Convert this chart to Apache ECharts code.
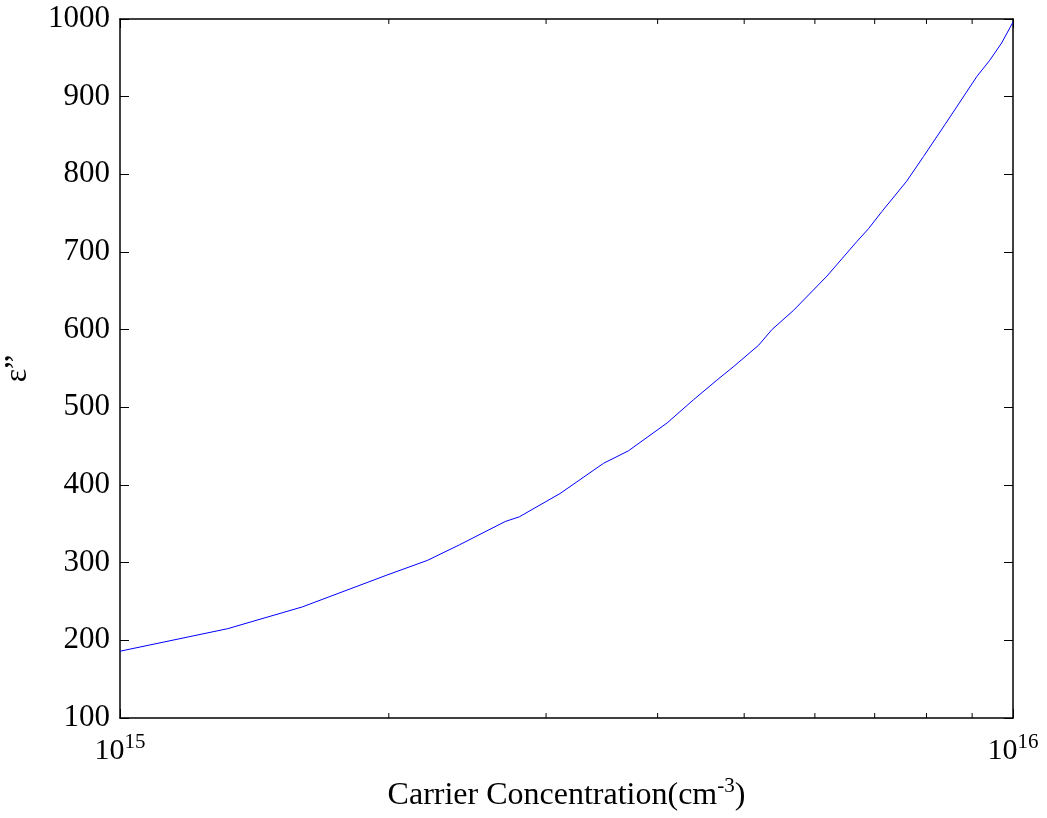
<!DOCTYPE html>
<html>
<head>
<meta charset="utf-8">
<title>Carrier concentration vs ε”</title>
<script src="https://cdn.jsdelivr.net/npm/echarts@6/dist/echarts.min.js"></script>
<style>
  html, body { margin: 0; padding: 0; background: #fff; }
  #chart { width: 1047px; height: 818px; }
</style>
</head>
<body>
<div id="chart"></div>
<script>
// carrier concentration (cm^-3) and epsilon''
const conc = [
  1.00e15, 1.32e15, 1.60e15, 1.99e15, 2.21e15, 2.40e15, 2.70e15, 2.80e15,
  3.11e15, 3.48e15, 3.71e15, 4.10e15, 4.39e15, 4.66e15, 4.86e15, 5.19e15,
  5.37e15, 5.68e15, 6.19e15, 6.68e15, 6.89e15, 7.13e15, 7.60e15, 7.94e15,
  8.39e15, 8.72e15, 9.11e15, 9.42e15, 9.71e15, 1.00e16
];
const epsImag = [
  186, 215, 243, 284, 303, 323, 353, 359,
  389, 428, 444, 480, 510, 535, 552, 580,
  600, 625, 669, 713, 730, 752, 791, 823,
  864, 893, 926, 947, 969, 996
];
// minor tick positions on the log axis
const minorTicks = [2e15, 3e15, 4e15, 5e15, 6e15, 7e15, 8e15, 9e15];

const xMin = 1e15, xMax = 1e16;
const yMin = 100, yMax = 1000, yStep = 100;
const FONT = '"Liberation Serif", "DejaVu Serif", serif';

const chart = echarts.init(document.getElementById('chart'));

// draws the small log-axis ticks on the bottom and top edges
function renderMinorTick(params, api) {
  const x = api.value(0);
  const bottom = api.coord([x, yMin]);
  const top = api.coord([x, yMax]);
  const style = { stroke: '#000', lineWidth: 1 };
  return {
    type: 'group',
    children: [
      { type: 'line', shape: { x1: bottom[0], y1: bottom[1], x2: bottom[0], y2: bottom[1] - 5 }, style },
      { type: 'line', shape: { x1: top[0], y1: top[1], x2: top[0], y2: top[1] + 5 }, style }
    ]
  };
}

const axisLine = { lineStyle: { color: '#000', width: 1.5 } };
const inTick = { inside: true, length: 9, lineStyle: { color: '#000', width: 1 } };

chart.setOption({
  animation: false,
  backgroundColor: '#fff',
  grid: { left: 120, right: 34, top: 19, bottom: 100, containLabel: false, outerBoundsMode: 'none' },
  xAxis: [
    {
      type: 'log',
      logBase: 10,
      min: xMin,
      max: xMax,
      position: 'bottom',
      axisLine,
      axisTick: inTick,
      splitLine: { show: false },
      axisLabel: {
        margin: 14,
        color: '#000',
        formatter: v => '{b|10}{s|' + Math.round(Math.log10(v)) + '}',
        rich: {
          b: { fontFamily: FONT, fontSize: 30, color: '#000', lineHeight: 38 },
          s: { fontFamily: FONT, fontSize: 21, color: '#000', verticalAlign: 'top', lineHeight: 24 }
        }
      },
      name: '{t|Carrier Concentration(cm}{s|-3}{t|)}',
      nameLocation: 'middle',
      nameGap: 58,
      nameTextStyle: {
        rich: {
          t: { fontFamily: FONT, fontSize: 32, color: '#000', lineHeight: 40 },
          s: { fontFamily: FONT, fontSize: 21, color: '#000', verticalAlign: 'top', lineHeight: 24 }
        }
      }
    },
    {
      type: 'log',
      logBase: 10,
      min: xMin,
      max: xMax,
      position: 'top',
      axisLine,
      axisTick: inTick,
      axisLabel: { show: false },
      splitLine: { show: false }
    }
  ],
  yAxis: [
    {
      type: 'value',
      min: yMin,
      max: yMax,
      interval: yStep,
      position: 'left',
      axisLine: { show: true, lineStyle: axisLine.lineStyle },
      axisTick: inTick,
      splitLine: { show: false },
      axisLabel: {
        fontFamily: FONT, fontSize: 31, color: '#000', margin: 10,
        formatter: v => String(v)
      },
      name: 'ε”',
      nameLocation: 'middle',
      nameRotate: 90,
      nameGap: 86,
      nameTextStyle: { fontFamily: FONT, fontSize: 32, color: '#000' }
    },
    {
      type: 'value',
      min: yMin,
      max: yMax,
      interval: yStep,
      position: 'right',
      axisLine: { show: true, lineStyle: axisLine.lineStyle },
      axisTick: inTick,
      axisLabel: { show: false },
      splitLine: { show: false }
    }
  ],
  series: [
    {
      type: 'line',
      data: conc.map((c, i) => [c, epsImag[i]]),
      showSymbol: false,
      symbol: 'none',
      smooth: false,
      lineStyle: { color: '#0000ff', width: 1 },
      z: 3
    },
    {
      type: 'custom',
      data: minorTicks.map(v => [v]),
      renderItem: renderMinorTick,
      clip: false,
      silent: true,
      z: 4
    }
  ]
});
</script>
</body>
</html>
